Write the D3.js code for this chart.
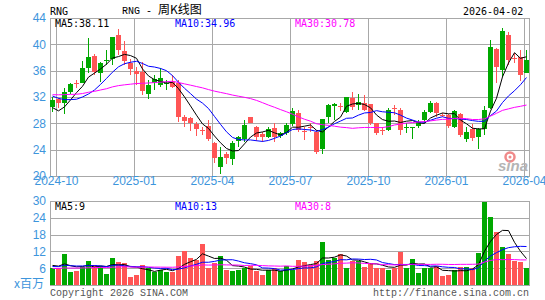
<!DOCTYPE html>
<html>
<head>
<meta charset="utf-8">
<script src="https://cdn.jsdelivr.net/npm/d3@7"></script>
<style>
  body { margin: 0; background: #fff; }
  svg { display: block; }
</style>
</head>
<body>
<svg width="545" height="300"></svg>
<script>
const symbol = 'RNG',
    lastDate = '2026-04-02'

// weekly candles, oldest first
const opens = [
    30.43, 31.65, 31.04, 32.81, 34.1, 34.18, 36.35, 38.23, 35.7, 37.45,
    37.72, 41.42, 38.99, 37.22, 36.0, 35.85, 32.46, 34.18, 33.82, 34.0,
    34.33, 34.08, 28.91, 28.76, 27.9, 27.05, 27.59, 24.96, 21.42, 23.34,
    22.53, 25.37, 25.57, 29.01, 27.39, 26.38, 25.87, 27.24, 26.08, 26.48,
    27.9, 29.52, 26.8, 27.5, 26.73, 24.05, 28.91, 30.63, 30.7, 29.77,
    31.8, 30.78, 31.04, 30.94, 28.0, 27.05, 26.99, 30.3, 30.03, 27.35,
    27.35, 27.59, 28.51, 29.77, 31.14, 29.3, 29.27, 27.49, 29.42, 25.57,
    27.09, 25.87, 27.09, 30.28, 39.24, 36.1, 41.42, 38.0, 38.13, 35.7
]
const highs = [
    31.95, 31.8, 33.3, 34.1, 34.6, 37.4, 41.0, 38.6, 37.37, 39.2,
    41.1, 42.28, 40.56, 37.8, 36.6, 37.37, 34.6, 35.34, 36.35, 34.6,
    35.3, 34.6, 29.27, 29.0, 28.25, 27.49, 28.51, 25.22, 24.46, 23.7,
    25.37, 26.08, 28.51, 29.01, 27.59, 26.73, 27.39, 28.0, 26.73, 28.0,
    30.28, 30.03, 27.49, 28.0, 26.99, 28.66, 30.94, 31.04, 31.04, 32.05,
    32.81, 32.46, 32.3, 30.94, 28.1, 27.49, 30.28, 30.78, 30.28, 28.0,
    27.49, 28.51, 30.03, 31.44, 31.29, 29.62, 29.42, 30.03, 29.52, 27.49,
    27.9, 27.24, 30.63, 40.66, 39.39, 42.43, 41.92, 38.63, 39.14, 39.14
]
const lows = [
    29.7, 30.3, 29.4, 32.5, 33.3, 34.1, 35.6, 35.3, 34.3, 36.9,
    36.9, 38.38, 36.86, 35.34, 33.82, 32.3, 31.65, 33.0, 33.57, 33.0,
    33.3, 28.25, 27.49, 26.9, 26.08, 26.23, 25.37, 21.92, 20.3, 21.82,
    21.67, 24.46, 25.22, 28.0, 25.37, 25.22, 25.72, 25.22, 25.72, 26.23,
    27.59, 26.73, 25.47, 26.73, 23.34, 23.34, 28.0, 28.51, 29.92, 29.62,
    30.03, 30.03, 29.92, 27.75, 26.23, 26.23, 26.89, 29.27, 26.23, 26.48,
    25.57, 27.24, 28.0, 29.52, 29.01, 29.01, 27.24, 27.24, 25.87, 25.22,
    25.37, 24.05, 26.23, 30.13, 34.08, 35.09, 36.86, 37.11, 34.48, 35.59
]
const closes = [
    31.54, 31.04, 32.81, 33.97, 33.95, 36.35, 38.03, 35.85, 37.11, 37.55,
    41.06, 39.14, 37.52, 36.2, 35.49, 32.96, 33.82, 34.68, 34.94, 34.15,
    33.57, 29.01, 28.41, 28.10, 27.09, 26.95, 25.57, 22.68, 22.94, 22.78,
    25.06, 25.87, 27.75, 28.10, 25.87, 25.87, 27.09, 25.87, 26.48, 27.75,
    29.92, 26.99, 26.7, 27.4, 23.7, 28.66, 30.78, 30.94, 30.6, 31.95,
    30.43, 31.29, 30.03, 28.10, 26.48, 26.95, 30.03, 30.2, 26.99, 27.45,
    27.45, 28.25, 29.77, 31.14, 29.52, 29.2, 27.59, 29.92, 26.23, 26.73,
    25.8, 27.09, 30.0, 39.65, 36.5, 42.08, 37.62, 37.8, 35.4, 37.65
]
// volume, millions of shares
const volumes = [
    5.9, 6.1, 10.9, 4.6, 4.9, 6.4, 8.7, 7.2, 6.7, 4.1,
    9.8, 8.2, 7.7, 2.8, 3.4, 7.0, 6.2, 4.8, 5.2, 4.8,
    4.6, 10.2, 12.1, 9.8, 9.1, 14.5, 6.1, 7.9, 10.2, 5.5,
    4.9, 5.3, 6.1, 6.7, 4.9, 3.4, 5.5, 6.0, 4.9, 6.7,
    5.5, 9.1, 8.2, 7.0, 8.4, 15.5, 9.1, 9.7, 11.2, 6.25,
    8.5, 8.7, 6.6, 7.9, 6.0, 6.2, 5.5, 6.0, 11.7, 6.2,
    9.3, 4.2, 6.2, 6.0, 6.8, 3.1, 3.6, 5.5, 6.6, 6.6,
    6.2, 11.3, 29.6, 24.3, 18.8, 13.6, 10.9, 8.6, 8.2, 5.9
]
// weeks before the window, only used to start the moving averages
// (estimated from where the MA lines begin)
const prevCloses = [
    31.5, 32.0, 32.8, 33.5, 33.0, 32.2, 31.6, 31.0, 31.8, 32.6,
    33.4, 34.0, 33.2, 32.5, 31.9, 32.3, 32.8, 33.1, 32.0, 31.8,
    34.5, 34.8, 33.9, 33.4, 32.9, 33.5, 29.8, 28.7, 28.4
]
const prevVolumes = [
    5.2, 6.0, 5.8, 4.9, 5.5, 6.3, 5.1, 5.7, 5.4, 6.0,
    5.0, 5.9, 5.6, 5.3, 6.1, 5.2, 5.8, 5.5, 5.4, 5.3,
    6.5, 5.8, 6.4, 6.0, 6.3, 7.4, 6.9, 7.8, 7.0
]

const priceTicks = [24, 28, 32, 36, 40],
    priceLabels = [20, 24, 28, 32, 36, 40, 44],
    volTicks = [6, 12, 18, 24],
    volLabels = [6, 12, 18, 24, 30],
    maPeriods = [5, 10, 30],
    maColors = ['black', '#0000ff', '#ff00ff']

const up_color = '#00a800',
    down_color = '#ff5555',
    grid_color = '#a8a8a8',
    axis_text = '#3d95dc'

const weeks = d3.timeFriday.range(new Date(2024, 8, 27), new Date(2026, 3, 4))

const svg = d3.select('svg')

const x = d3.scaleLinear().domain([0, closes.length]).range([50, 530]),
    yP = d3.scaleLinear().domain([20, 44]).range([176, 18]),
    yV = d3.scaleLinear().domain([0, 30]).range([285, 201]),
    px = (v) => Math.round(v) + 0.5

function movingAvg(prev, vals, n) {
    const all = prev.concat(vals)
    return vals.map((d, i) => d3.mean(all.slice(prev.length + i - n + 1, prev.length + i + 1)))
}

// ---- titles
svg.append('text').attr('x', 50).attr('y', 15)
    .style('font', '10px "DejaVu Sans Mono"').text(symbol)
const title = svg.append('text').attr('x', 122).attr('y', 14)
title.append('tspan').style('font', '10px "Liberation Mono"').text(symbol + ' - ')
title.append('tspan').style('font', '12px "Noto Sans CJK SC"').text('周K线图')
svg.append('text').attr('x', 463).attr('y', 15)
    .style('font', '10px "DejaVu Sans Mono"').text(lastDate)

// ---- price panel grid
const ticksIdx = weeks.map((d, i) => i)
    .filter((i) => weeks[i].getDate() <= 7 && weeks[i].getMonth() % 3 === 0)

svg.append('g').selectAll('line')
    .data(priceTicks)
    .enter().append('line')
    .attr('x1', 50).attr('x2', 530)
    .attr('y1', (d) => px(yP(d))).attr('y2', (d) => px(yP(d)))
    .style('stroke', grid_color)

svg.append('g').selectAll('line')
    .data(ticksIdx)
    .enter().append('line')
    .attr('x1', (d) => px(x(d))).attr('x2', (d) => px(x(d)))
    .attr('y1', px(yP(44))).attr('y2', px(yP(20)))
    .style('stroke', grid_color)

svg.append('rect')
    .attr('x', 50.5).attr('y', px(yP(44)))
    .attr('width', 479).attr('height', Math.round(yP(20)) - Math.round(yP(44)))
    .style('fill', 'none').style('stroke', grid_color)

// ---- volume panel grid
svg.append('g').selectAll('line')
    .data(volTicks)
    .enter().append('line')
    .attr('x1', 50).attr('x2', 530)
    .attr('y1', (d) => px(yV(d))).attr('y2', (d) => px(yV(d)))
    .style('stroke', grid_color)

svg.append('rect')
    .attr('x', 50.5).attr('y', px(yV(30)))
    .attr('width', 479).attr('height', Math.round(yV(0)) - Math.round(yV(30)))
    .style('fill', 'none').style('stroke', grid_color)

// ---- axis labels
svg.append('g').selectAll('text')
    .data(priceLabels)
    .enter().append('text')
    .attr('x', 46).attr('y', (d) => yP(d)).attr('dy', '0.36em')
    .style('text-anchor', 'end')
    .style('font', '12px "Liberation Sans"').style('fill', axis_text)
    .text((d) => d)

svg.append('g').selectAll('text')
    .data(ticksIdx)
    .enter().append('text')
    .attr('x', (d) => x(d) + 0.5).attr('y', 185)
    .style('text-anchor', 'middle')
    .style('font', '12px "Liberation Sans"').style('fill', axis_text)
    .text((d) => d3.timeFormat('%Y-%m')(weeks[d]))

svg.append('g').selectAll('text')
    .data(volLabels)
    .enter().append('text')
    .attr('x', 46).attr('y', (d) => yV(d)).attr('dy', '0.36em')
    .style('text-anchor', 'end')
    .style('font', '12px "Liberation Sans"').style('fill', axis_text)
    .text((d) => d)

svg.append('text').attr('x', 44).attr('y', 288)
    .style('text-anchor', 'end')
    .style('font', '12px "Noto Sans CJK SC"').style('fill', axis_text)
    .text('x百万')

// ---- sina watermark
svg.append('circle').attr('cx', 510).attr('cy', 157).attr('r', 4.5)
    .style('fill', 'none').style('stroke', '#f08a8a').style('stroke-width', 2.5)
svg.append('circle').attr('cx', 510).attr('cy', 157).attr('r', 1.5)
    .style('fill', '#f08a8a')
svg.append('text').attr('x', 513).attr('y', 171)
    .style('text-anchor', 'middle')
    .style('font', 'italic bold 15px "Liberation Sans"').style('fill', '#b4b4b4')
    .text('sina')

// ---- candles
const candles = closes.map((c, i) => ({
    i: i, open: opens[i], high: highs[i], low: lows[i], close: c,
    up: c >= opens[i]
}))

const cg = svg.append('g').attr('shape-rendering', 'crispEdges')
cg.selectAll('line')
    .data(candles)
    .enter().append('line')
    .attr('x1', (d) => Math.round(x(d.i)) + 2.5)
    .attr('x2', (d) => Math.round(x(d.i)) + 2.5)
    .attr('y1', (d) => Math.round(yP(d.high)))
    .attr('y2', (d) => Math.round(yP(d.low)))
    .style('stroke', (d) => d.up ? up_color : down_color)

cg.selectAll('rect')
    .data(candles)
    .enter().append('rect')
    .attr('x', (d) => Math.round(x(d.i)))
    .attr('y', (d) => Math.round(yP(Math.max(d.open, d.close))))
    .attr('width', 5)
    .attr('height', (d) => Math.max(1, Math.round(yP(Math.min(d.open, d.close))) - Math.round(yP(Math.max(d.open, d.close)))))
    .style('fill', (d) => d.up ? up_color : down_color)

// ---- volume bars
svg.append('g').attr('shape-rendering', 'crispEdges')
    .selectAll('rect')
    .data(candles)
    .enter().append('rect')
    .attr('x', (d) => Math.round(x(d.i)))
    .attr('y', (d) => Math.round(yV(volumes[d.i])))
    .attr('width', 5)
    .attr('height', (d) => Math.round(yV(0)) - Math.round(yV(volumes[d.i])))
    .style('fill', (d) => d.up ? up_color : down_color)

// ---- moving averages
const line = (ys) => d3.line()
    .x((d, i) => x(i) + 2.5)
    .y((d) => ys(d))

const priceMA = maPeriods.map((n) => movingAvg(prevCloses, closes, n)),
    volMA = maPeriods.map((n) => movingAvg(prevVolumes, volumes, n))

maPeriods.forEach(function (n, k) {
    svg.append('path')
        .datum(priceMA[k])
        .attr('d', line(yP))
        .style('fill', 'none')
        .style('stroke', maColors[k])
        .style('stroke-width', 1)
    svg.append('path')
        .datum(volMA[k])
        .attr('d', line(yV))
        .style('fill', 'none')
        .style('stroke', maColors[k])
        .style('stroke-width', 1)
})

// ---- legends (volume averages are truncated to whole millions)
const f2 = d3.format('.2f')
maPeriods.forEach(function (n, k) {
    svg.append('text')
        .attr('x', 55 + 120 * k).attr('y', 27)
        .style('font', '10px "DejaVu Sans Mono"').style('fill', maColors[k])
        .text('MA' + n + ':' + f2(priceMA[k][priceMA[k].length - 1]))
    svg.append('text')
        .attr('x', 55 + 120 * k).attr('y', 209.5)
        .style('font', '10px "DejaVu Sans Mono"').style('fill', maColors[k])
        .text('MA' + n + ':' + Math.floor(volMA[k][volMA[k].length - 1]))
})

// ---- footer
svg.append('text').attr('x', 50).attr('y', 296)
    .style('font', '10px "Liberation Mono"').style('fill', '#555')
    .text('Copyright 2026 SINA.COM')
svg.append('text').attr('x', 529).attr('y', 296)
    .style('text-anchor', 'end')
    .style('font', '10px "Liberation Mono"').style('fill', '#555')
    .text('http://finance.sina.com.cn')
</script>
</body>
</html>
